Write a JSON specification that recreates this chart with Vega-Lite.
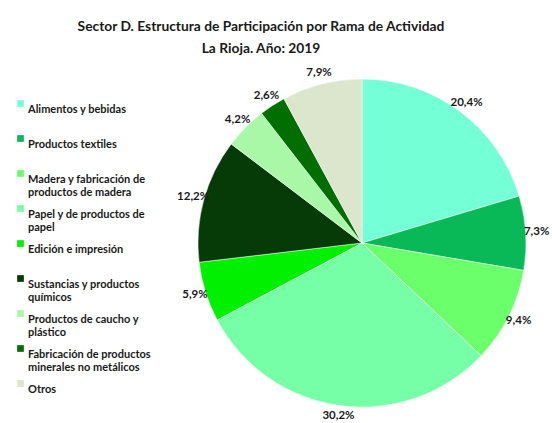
{
  "$schema": "https://vega.github.io/schema/vega-lite/v6.json",
  "autosize": {"type": "none"},
  "width": 320,
  "height": 326,
  "padding": {"left": 202, "top": 80, "right": 30, "bottom": 17},
  "background": "white",
  "config": {
    "view": {"stroke": null},
    "font": "Lato",
    "locale": {"number": {"decimal": ",", "thousands": ".", "grouping": [3], "currency": ["", "%"]}}
  },
  "title": {
    "text": ["Sector D. Estructura de Participación por Rama de Actividad", "La Rioja. Año: 2019"],
    "font": "Lato",
    "fontSize": 13.8,
    "fontWeight": "bold",
    "color": "#1a1a1a",
    "anchor": "middle",
    "frame": "group",
    "dx": -101,
    "offset": 12,
    "lineHeight": 22
  },
  "data": {
    "values": [
      {"rama": "Alimentos y bebidas", "orden": 1, "pct": 20.4},
      {"rama": "Productos textiles", "orden": 2, "pct": 7.3},
      {"rama": "Madera y fabricación de productos de madera", "orden": 3, "pct": 9.4},
      {"rama": "Papel y de productos de papel", "orden": 4, "pct": 30.2},
      {"rama": "Edición e impresión", "orden": 5, "pct": 5.9},
      {"rama": "Sustancias y productos químicos", "orden": 6, "pct": 12.2},
      {"rama": "Productos de caucho y plástico", "orden": 7, "pct": 4.2},
      {"rama": "Fabricación de productos minerales no metálicos", "orden": 8, "pct": 2.6},
      {"rama": "Otros", "orden": 9, "pct": 7.9}
    ]
  },
  "encoding": {
    "theta": {"field": "pct", "type": "quantitative", "stack": true},
    "order": {"field": "orden", "type": "quantitative"},
    "color": {
      "field": "rama",
      "type": "nominal",
      "sort": null,
      "scale": {
        "domain": ["Alimentos y bebidas", "Productos textiles", "Madera y fabricación de productos de madera", "Papel y de productos de papel", "Edición e impresión", "Sustancias y productos químicos", "Productos de caucho y plástico", "Fabricación de productos minerales no metálicos", "Otros"],
        "range": ["#75FFD6", "#09B856", "#6CFF6C", "#76FFA6", "#00F000", "#063A06", "#A8F8A8", "#006E00", "#DCE6CC"]
      },
      "legend": {
        "title": null,
        "orient": "none",
        "legendX": -187,
        "legendY": 18,
        "symbolType": "square",
        "symbolSize": 45,
        "symbolStrokeWidth": 0,
        "labelFont": "Lato",
        "labelFontSize": 11,
        "labelFontWeight": "bold",
        "labelColor": "#1a1a1a",
        "labelLimit": 200,
        "labelOffset": 2,
        "labelLineHeight": 15.5,
        "labelBaseline": "top",
        "labelExpr": "datum.label == 'Madera y fabricación de productos de madera' ? ['Madera y fabricación de', 'productos de madera'] : datum.label == 'Papel y de productos de papel' ? ['Papel y de productos de', 'papel'] : datum.label == 'Sustancias y productos químicos' ? ['Sustancias y productos', 'químicos'] : datum.label == 'Productos de caucho y plástico' ? ['Productos de caucho y', 'plástico'] : datum.label == 'Fabricación de productos minerales no metálicos' ? ['Fabricación de productos', 'minerales no metálicos'] : [datum.label, ' ']",
        "rowPadding": 5
      }
    }
  },
  "layer": [
    {
      "mark": {"type": "arc", "outerRadius": 164, "stroke": "#ffffff", "strokeWidth": 0.5}
    },
    {
      "mark": {"type": "text", "radius": 175, "font": "Lato", "fontSize": 11.5, "fontWeight": "bold"},
      "encoding": {
        "text": {"field": "pct", "type": "quantitative", "format": "$.1f"},
        "color": {"value": "#1a1a1a"}
      }
    }
  ]
}
